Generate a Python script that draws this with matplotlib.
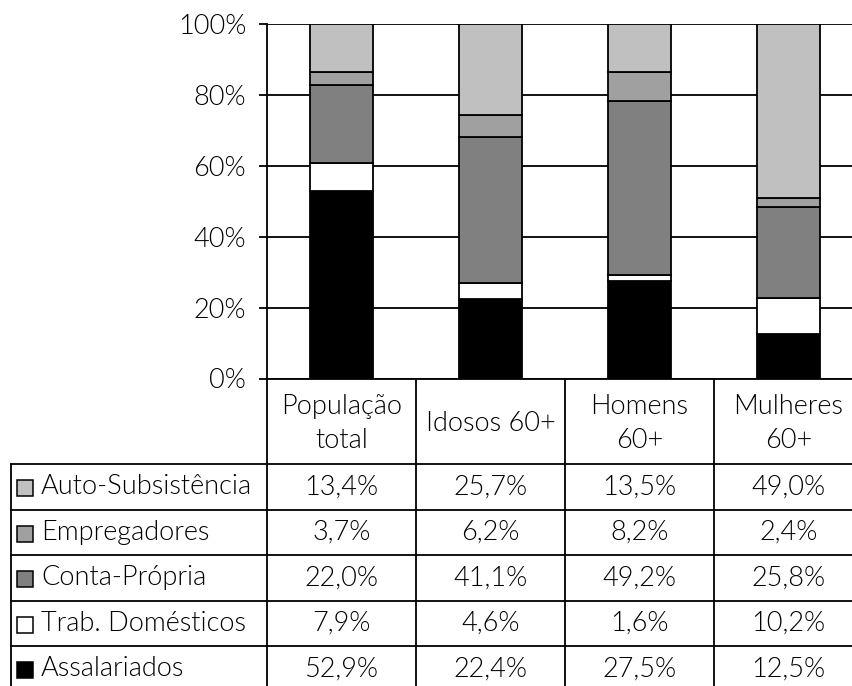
import matplotlib
matplotlib.use("Agg")
from matplotlib import pyplot as plt
from matplotlib import font_manager
from matplotlib.patches import Rectangle

categories = ["População\ntotal", "Idosos 60+", "Homens\n60+", "Mulheres\n60+"]

assalariados = [52.9, 22.4, 27.5, 12.5]
trab_domesticos = [7.9, 4.6, 1.6, 10.2]
conta_propria = [22.0, 41.1, 49.2, 25.8]
empregadores = [3.7, 6.2, 8.2, 2.4]
auto_subsistencia = [13.4, 25.7, 13.5, 49.0]

# bottom -> top of the stack
series = [
    ("Assalariados", assalariados, "#000000"),
    ("Trab. Domésticos", trab_domesticos, "#ffffff"),
    ("Conta-Própria", conta_propria, "#808080"),
    ("Empregadores", empregadores, "#a0a0a0"),
    ("Auto-Subsistência", auto_subsistencia, "#c0c0c0"),
]

names = {f.name for f in font_manager.fontManager.ttflist}
if "Lato" in names:
    fam = ["Lato", "DejaVu Sans"]
    fs = 19.5
else:
    fam = ["Roboto", "DejaVu Sans"]
    fs = 18
plt.rcParams["font.family"] = fam
plt.rcParams["font.weight"] = 300

W, H = 852, 686
fig = plt.figure(figsize=(W / 100, H / 100), dpi=100)

# layout in pixels
x_axis = 267
col_w = 149
y_top = 24
y_zero = 378.5
head_bot = 464
row_h = 45.5
tab_left = 11

ax = fig.add_axes([x_axis / W, (H - y_zero) / H, 4 * col_w / W, (y_zero - y_top) / H])
x = list(range(len(categories)))
bottom = [0] * len(categories)
for name, vals, color in series:
    ax.bar(x, vals, 0.42, bottom=bottom, color=color, edgecolor="black",
           linewidth=1.3, zorder=3)
    bottom = [b + v for b, v in zip(bottom, vals)]

ax.set_xlim(-0.5, len(categories) - 0.5)
ax.set_ylim(0, 100)
ax.set_yticks([0, 20, 40, 60, 80, 100])
ax.set_yticklabels(["0%", "20%", "40%", "60%", "80%", "100%"], fontsize=fs)
ax.set_xticks([])
ax.yaxis.grid(True, color="black", linewidth=1.3)
ax.set_axisbelow(True)
ax.tick_params(axis="y", length=6, width=1.3, pad=9)
for s in ["top", "right"]:
    ax.spines[s].set_visible(False)
ax.spines["left"].set_linewidth(1.3)
ax.spines["bottom"].set_linewidth(1.3)

# data table drawn in pixel coordinates
tb = fig.add_axes([0, 0, 1, 1])
tb.set_xlim(0, W)
tb.set_ylim(H, 0)
tb.axis("off")
tb.patch.set_alpha(0)

n = len(categories)
col_x = [x_axis + i * col_w for i in range(n + 1)]
rows = series[::-1]
row_y = [head_bot + i * row_h for i in range(len(rows) + 1)]

lw = 1.3
for cx in col_x:
    tb.plot([cx, cx], [y_zero, H + 5], color="black", lw=lw, clip_on=False)
tb.plot([tab_left, tab_left], [head_bot, H + 5], color="black", lw=lw, clip_on=False)
for ry in row_y:
    tb.plot([tab_left, col_x[-1]], [ry, ry], color="black", lw=lw, clip_on=False)

for i, cat in enumerate(categories):
    tb.text(col_x[i] + col_w / 2, (y_zero + head_bot) / 2 + 2, cat, ha="center",
            va="center", fontsize=fs, linespacing=1.45)

for r, (name, vals, color) in enumerate(rows):
    cy = row_y[r] + row_h / 2
    tb.add_patch(Rectangle((17, cy - 6.5), 16, 16, facecolor=color, edgecolor="black",
                           lw=1.1))
    tb.text(41, cy, name, ha="left", va="center", fontsize=fs)
    for i, v in enumerate(vals):
        label = f"{v:.1f}%".replace(".", ",")
        tb.text(col_x[i] + col_w / 2, cy, label, ha="center", va="center", fontsize=fs)

fig.savefig("out.png", dpi=100)
